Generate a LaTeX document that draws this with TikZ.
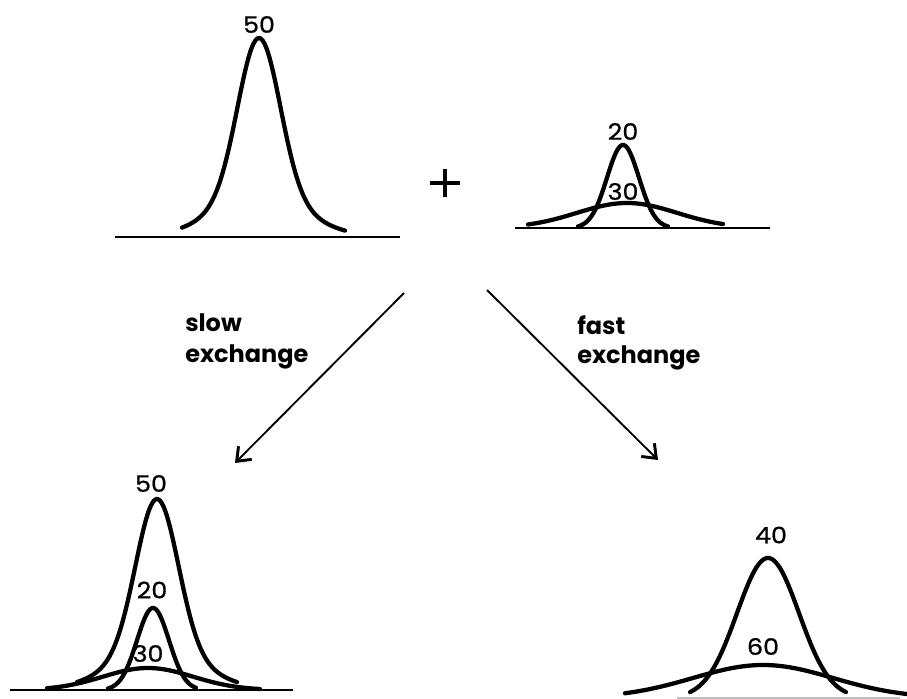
\documentclass[tikz,border=0pt]{standalone}
\usepackage{fontspec}
\setmainfont{Poppins}
\newfontfamily\numfont[FakeBold=0.8,FakeStretch=1.12]{Poppins}
\usetikzlibrary{arrows.meta}
\newcommand\mypeak[7]{% centre, base, height, width, eta, from, to
  \draw[curve] plot[domain=#6:#7, samples=90, smooth, variable=\t]
    (\t, {#2 - #3*((1-#5)*exp(-0.5*pow((\t-#1)/#4,2)) + #5*exp(-pow((\t-#1)/#4,2)/9.16))});
}
\begin{document}
\begin{tikzpicture}[x=0.75pt,y=-0.75pt,
  curve/.style={line width=3.2pt, line join=round, line cap=round},
  axis/.style={line width=1.5pt},
  lbl/.style={font=\numfont\fontsize{17}{17}\selectfont, inner sep=0pt},
  txt/.style={font=\fontsize{18}{20}\selectfont\bfseries, inner sep=0pt, anchor=base west},
  arr/.style={line width=1.4pt, -{Straight Barb[length=9pt,width=14pt,line width=2.2pt]}},
  plusst/.style={line width=3pt}
]
\useasboundingbox (0,0) rectangle (907,699);

% top left
\draw[axis] (115,237) -- (400,237);
\mypeak{259}{237}{199}{21}{0.2}{182}{345}
\node[lbl] (tl50) at (259,24.5) {50};

% plus
\coordinate (plus) at (445,183);
\draw[plusst] (plus) ++(-15,0) -- ++(30,0);
\draw[plusst] (plus) ++(0,-14) -- ++(0,28);

% top right
\draw[axis] (515,228) -- (770,228);
\mypeak{623}{228}{83}{16}{0}{578}{668}
\mypeak{627}{228}{25}{50}{0}{528}{723}
\node[lbl] (tr20) at (623,131.5) {20};
\node[lbl] (tr30) at (623,191.5) {30};

% arrows
\coordinate (s1) at (404,293);
\coordinate (e1) at (235,463);
\coordinate (s2) at (487,290);
\coordinate (e2) at (658,460);
\draw[arr] (s1) -- (e1);
\draw[arr] (s2) -- (e2);

\node[txt] (slow) at (185,331) {slow};
\node[txt] (ex1) at (185,362) {exchange};
\node[txt] (fast) at (577,334) {fast};
\node[txt] (ex2) at (577,363) {exchange};

% bottom left
\draw[axis] (10,690) -- (293,690);
\mypeak{157}{690}{191}{21}{0.2}{77}{237}
\mypeak{153}{690}{82}{16}{0}{108}{196}
\mypeak{148}{690}{22}{45}{0}{47}{260}
\node[lbl] (bl50) at (151,483.5) {50};
\node[lbl] (bl20) at (152,590) {20};
\node[lbl] (bl30) at (148,653.5) {30};

% bottom right
\draw[line width=0.8pt, black!25] (677,698) -- (900,698);
\mypeak{768}{698}{140}{31}{0}{690}{846}
\mypeak{763}{698}{33}{70}{0}{625}{907}
\node[lbl] (br40) at (771,535) {40};
\node[lbl] (br60) at (763,646.5) {60};
\end{tikzpicture}
\end{document}
